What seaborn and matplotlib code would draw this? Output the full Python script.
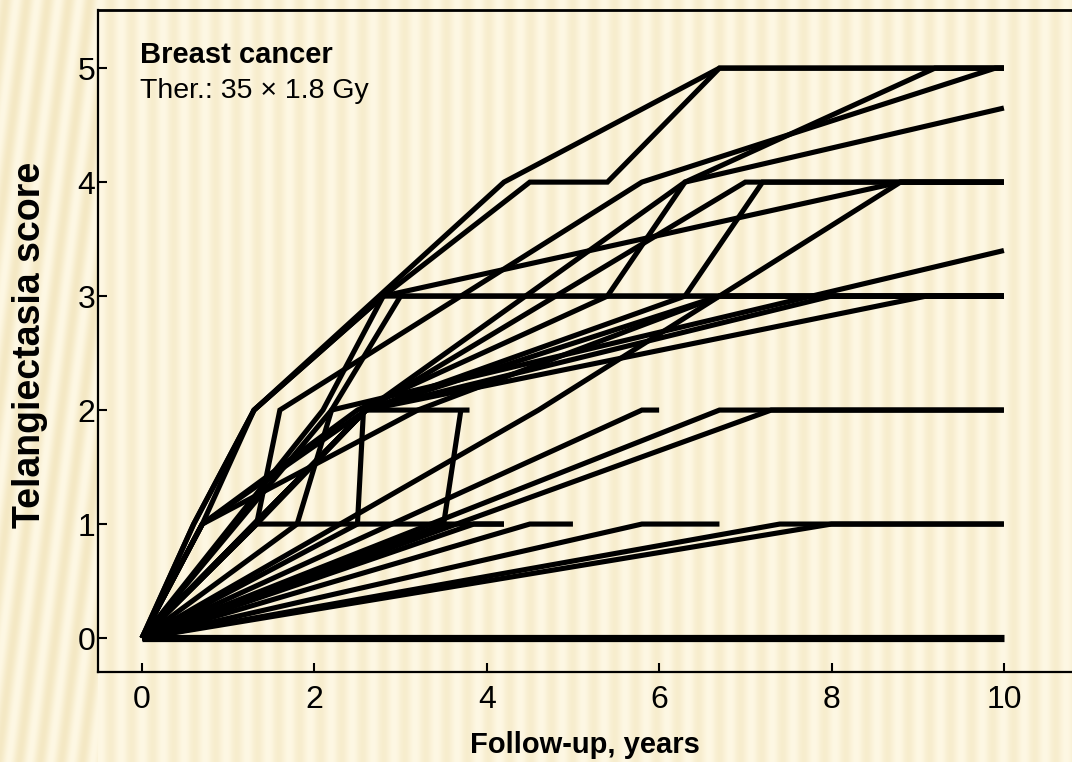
import numpy as np
import pandas as pd
import matplotlib
matplotlib.use("Agg")
import matplotlib.pyplot as plt
import seaborn as sns

# ---------------- data ----------------
x_ticks = [0, 2, 4, 6, 8, 10]
y_ticks = [0, 1, 2, 3, 4, 5]
title_line1 = "Breast cancer"
title_line2 = "Ther.: 35 \u00d7 1.8 Gy"
x_label = "Follow-up, years"
y_label = "Telangiectasia score"

# one entry per patient: follow-up years and telangiectasia scores
patient_years = [
    [0, 10],
    [0, 8.0, 10],
    [0, 7.4, 10],
    [0, 5.8, 6.7],
    [0, 4.5, 5.0],
    [0, 1.33, 4.2],
    [0, 2.5, 2.57, 3.8],
    [0, 3.5, 3.7],
    [0, 1.8, 2.2, 3.0, 10],
    [0, 0.7, 1.3, 4.2, 6.7, 10],
    [0, 0.6, 1.3, 2.8, 4.5, 5.4, 6.7, 10],
    [0, 1.33, 1.6, 5.8, 9.9, 10],
    [0, 0.7, 2.5, 5.4, 6.3, 10],
    [0, 0.7, 2.6, 6.3, 9.2, 10],
    [0, 2.6, 7.0, 10],
    [0, 2.6, 6.3, 7.2, 10],
    [0, 2.6, 6.7, 8.8, 10],
    [0, 0.6, 1.3, 2.8, 8.8, 10],
    [0, 2.2, 10],
    [0, 2.6, 9.1, 10],
    [0, 1.33, 2.6, 8.0, 10],
    [0, 4.6, 6.7, 10],
    [0, 5.8, 6.0],
    [0, 6.7, 10],
    [0, 7.3, 10],
    [0, 0.7, 3.2, 6.7, 10],
    [0, 2.1, 2.8, 10],
    [0, 3.85, 4.2],
]
patient_scores = [
    [0, 0],
    [0, 1, 1],
    [0, 1, 1],
    [0, 1, 1],
    [0, 1, 1],
    [0, 1, 1],
    [0, 1, 2, 2],
    [0, 1, 2],
    [0, 1, 2, 3, 3],
    [0, 1, 2, 4, 5, 5],
    [0, 1, 2, 3, 4, 4, 5, 5],
    [0, 1, 2, 4, 5, 5],
    [0, 1, 2, 3, 4, 4.65],
    [0, 1, 2, 4, 5, 5],
    [0, 2, 4, 4],
    [0, 2, 3, 4, 4],
    [0, 2, 3, 4, 4],
    [0, 1, 2, 3, 4, 4],
    [0, 2, 3.4],
    [0, 2, 3, 3],
    [0, 1, 2, 3, 3],
    [0, 2, 3, 3],
    [0, 2, 2],
    [0, 2, 2],
    [0, 2, 2],
    [0, 1, 2, 3, 3],
    [0, 2, 3, 3],
    [0, 1, 1],
]

rows = []
for pid, (yrs, scs) in enumerate(zip(patient_years, patient_scores)):
    for order, (xv, yv) in enumerate(zip(yrs, scs)):
        rows.append({"patient": pid, "order": order, "year": xv, "score": yv})
df = pd.DataFrame(rows)

# ---------------- figure ----------------
sns.set_theme(style="white")
plt.rcParams["font.family"] = ["Liberation Sans", "DejaVu Sans"]

W, H = 1072, 762
fig = plt.figure(figsize=(W / 100, H / 100), dpi=100)

# striped beige slide background
bg = fig.add_axes([0, 0, 1, 1], zorder=-10)
bg.axis("off")
xx, yy = np.meshgrid(np.arange(W), np.arange(H))
phase = np.where(xx < 98, xx + 0.12 * yy, xx)
wave = 0.5 + 0.5 * np.sin(2 * np.pi * phase / 21.0)
amp = np.where(xx < 98, 0.6, 0.42)
light = np.array([254, 248, 228]) / 255.0
dark = np.array([238, 222, 175]) / 255.0
t = (wave * amp)[..., None]
img = light * (1 - t) + dark * t
bg.imshow(img, aspect="auto", extent=[0, 1, 0, 1], interpolation="bilinear")
bg.set_xlim(0, 1)
bg.set_ylim(0, 1)

ax = fig.add_axes([98 / W, 90 / H, (W - 98) / W, (672 - 10) / H])
ax.patch.set_alpha(0)

sns.lineplot(data=df, x="year", y="score", units="patient", estimator=None,
             sort=False, color="black", linewidth=3.7, legend=False, ax=ax)
for i, ln in enumerate(ax.lines):
    ln.set_solid_capstyle("butt")
    ln.set_solid_joinstyle("miter")
    if i == 0:
        ln.set_linewidth(5.2)

ax.set_xlim(-0.51, 10.79)
ax.set_ylim(-0.298, 5.51)
ax.set_xticks(x_ticks)
ax.set_yticks(y_ticks)
ax.set_xticklabels([str(v) for v in x_ticks])
ax.set_yticklabels([str(v) for v in y_ticks])
ax.tick_params(axis="x", direction="in", length=6.5, width=1.5, labelsize=23,
               pad=9, colors="black", bottom=True)
ax.tick_params(axis="y", direction="in", length=6.5, width=1.5, labelsize=23,
               pad=2, colors="black", left=True)
ax.set_xlabel("")
ax.set_ylabel("")
for side in ["left", "bottom"]:
    ax.spines[side].set_visible(True)
    ax.spines[side].set_color("black")
    ax.spines[side].set_linewidth(1.6)
ax.spines["top"].set_visible(True)
ax.spines["top"].set_color("black")
ax.spines["top"].set_linewidth(2.0)
ax.spines["right"].set_visible(False)

fig.text(140 / W, 1 - 63 / H, title_line1, fontsize=21, fontweight="bold",
         ha="left", va="baseline", color="black")
fig.text(140 / W, 1 - 98 / H, title_line2, fontsize=20.5, ha="left",
         va="baseline", color="black")
fig.text(585 / W, 1 - 745 / H, x_label, fontsize=21, fontweight="bold",
         ha="center", va="center", color="black")
fig.text(30 / W, 1 - 345 / H, y_label, fontsize=27, fontweight="bold",
         rotation=90, ha="center", va="center", color="black")

fig.savefig("out.png", dpi=100)
